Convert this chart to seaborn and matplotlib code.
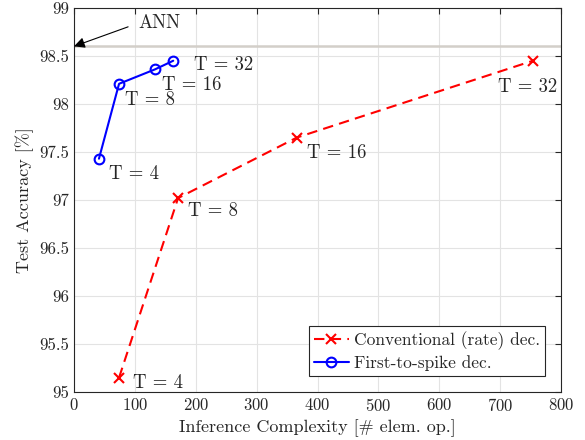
import matplotlib
matplotlib.use("Agg")
import matplotlib.pyplot as plt
import seaborn as sns
import pandas as pd

# data
t_steps = [4, 8, 16, 32]
rate_ops = [74, 171, 366, 754]
rate_acc = [95.15, 97.02, 97.65, 98.45]
fts_ops = [41, 74, 133, 163]
fts_acc = [97.43, 98.21, 98.36, 98.45]
ann_acc = 98.6

x_ticks = [0, 100, 200, 300, 400, 500, 600, 700, 800]
y_ticks = [95, 95.5, 96, 96.5, 97, 97.5, 98, 98.5, 99]

sns.set_style("white")
plt.rcParams['font.family'] = ['serif']
plt.rcParams['font.serif'] = ['cmr10', 'DejaVu Serif']
plt.rcParams['mathtext.fontset'] = 'cm'
plt.rcParams['axes.formatter.use_mathtext'] = True

fig = plt.figure(figsize=(5.85, 4.4), dpi=100)
ax = fig.add_axes([0.1265, 0.109, 0.8325, 0.873])

ax.axhline(ann_acc, color='#d3cfc9', linewidth=1.8, zorder=1)

rate_df = pd.DataFrame({'ops': rate_ops, 'acc': rate_acc})
fts_df = pd.DataFrame({'ops': fts_ops, 'acc': fts_acc})

sns.lineplot(data=rate_df, x='ops', y='acc', ax=ax, color='red', linestyle=(0, (5, 3)),
             marker='x', markersize=7, markeredgecolor='red', markeredgewidth=1.5,
             linewidth=1.5, label='Conventional (rate) dec.', zorder=3)
sns.lineplot(data=fts_df, x='ops', y='acc', ax=ax, color='blue', linestyle='-',
             marker='o', markersize=7, markerfacecolor='none', markeredgecolor='blue',
             markeredgewidth=1.5, linewidth=1.5, label='First-to-spike dec.', zorder=3)

# label offsets in points
rate_off = [(10, -4), (7, -9), (7, -11), (-25, -19)]
fts_off = [(7, -11), (4, -12), (5, -11), (15, -3)]
for t, x, y, off in zip(t_steps, rate_ops, rate_acc, rate_off):
    ax.annotate(f'T = {t}', (x, y), xytext=off, textcoords='offset points',
                fontsize=13.5, va='center', ha='left')
for t, x, y, off in zip(t_steps, fts_ops, fts_acc, fts_off):
    ax.annotate(f'T = {t}', (x, y), xytext=off, textcoords='offset points',
                fontsize=13.5, va='center', ha='left')

ax.annotate('ANN', xy=(0, ann_acc), xytext=(105, 98.84), fontsize=13.5, va='center',
            arrowprops=dict(arrowstyle='-|>', color='black', lw=0.8,
                            mutation_scale=16, shrinkA=5, shrinkB=0,
                            relpos=(0, 0.5)))

ax.set_xlim(0, 800)
ax.set_ylim(95, 99)
ax.set_xticks(x_ticks)
ax.set_yticks(y_ticks)
ax.set_yticklabels([f'{v:g}' for v in y_ticks])
ax.tick_params(direction='in', top=True, right=True, labelsize=12, colors='#262626',
               length=4)
ax.grid(True, color='#e3e3e3', linewidth=0.8)
for s in ax.spines.values():
    s.set_color('#262626')
    s.set_linewidth(0.8)

ax.set_xlabel('Inference Complexity [# elem. op.]', fontsize=13, color='#262626')
ax.set_ylabel('Test Accuracy [%]', fontsize=13, color='#262626')

leg = ax.legend(loc='lower right', fontsize=12.5, fancybox=False, framealpha=1,
                edgecolor='#262626', handlelength=2.0, borderpad=0.3,
                labelspacing=0.3, handletextpad=0.3, borderaxespad=0.9)
leg.get_frame().set_linewidth(0.8)

fig.savefig('out.png', dpi=100)
